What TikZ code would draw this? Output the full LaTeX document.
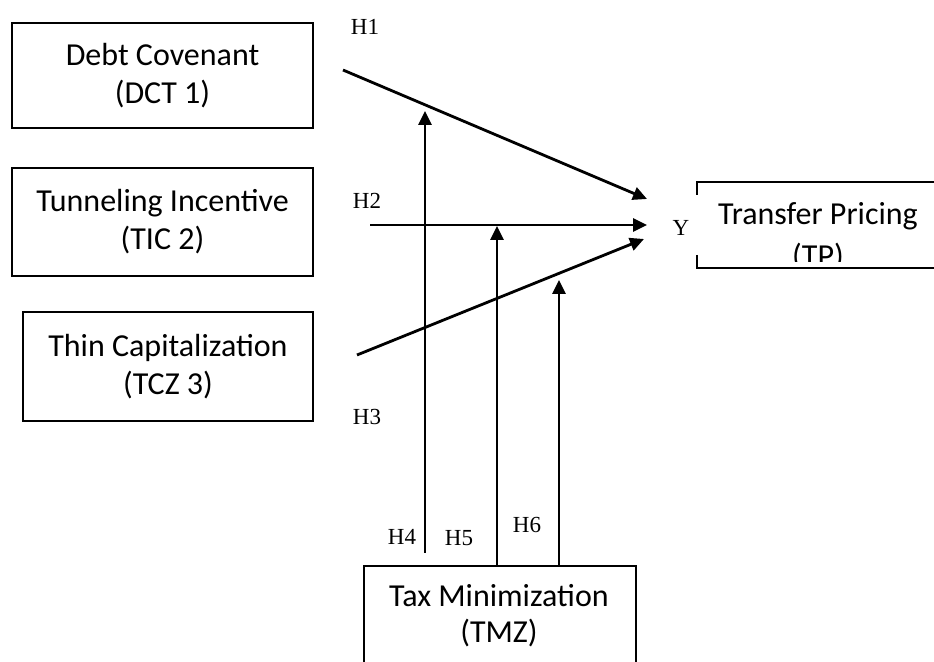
\documentclass[tikz,border=0pt]{standalone}
\usepackage{fontspec}
\setmainfont{Liberation Serif}
\newfontfamily\boxfont{Carlito}
\usetikzlibrary{arrows.meta}

\tikzset{
  varbox/.style={draw, line width=0.6pt, align=center, inner sep=0pt,
                 font=\boxfont\fontsize{16}{19}\selectfont},
  vartext/.style={align=center, inner sep=0pt,
                  font=\boxfont\fontsize{16}{18}\selectfont},
  frame/.style={line width=0.6pt},
  hlabel/.style={font=\fontsize{11.5}{13}\selectfont, inner sep=0pt},
  link/.style={line width=1.4pt, -{Triangle[length=7pt,width=6.5pt]}}
}

\begin{document}
\begin{tikzpicture}[x=0.5pt, y=-0.5pt]
  \useasboundingbox (0,0) rectangle (934,662);

  % Independent variables
  \node[varbox, minimum width=150.5pt, minimum height=52.5pt] (dct) at (162.5,75.5)
       {Debt Covenant\\(DCT 1)};
  \node[varbox, minimum width=150.5pt, minimum height=54pt] (tic) at (162.5,222)
       {Tunneling Incentive\\(TIC 2)};
  \node[varbox, minimum width=145pt, minimum height=54.5pt] (tcz) at (168,366.5)
       {Thin Capitalization\\(TCZ 3)};

  % Dependent variable (open frame, text cut at the bottom)
  \draw[frame] (697,195) |- (940,182);
  \draw[frame] (697,255) |- (940,268);
  \begin{scope}
    \clip (690,175) rectangle (940,262);
    \node[vartext, font=\boxfont\fontsize{16}{21}\selectfont] (tp) at (818,237)
         {Transfer Pricing\\(TP)};
  \end{scope}
  \node[hlabel] (y) at (681,228) {Y};

  % Moderating variable
  \draw[frame] (364,670) |- (636,566) -- (636,670);
  \node[vartext] (tmz) at (499,616) {Tax Minimization\\(TMZ)};

  % End points of the paths
  \coordinate (h1s) at (343,70);
  \coordinate (h1e) at (647,199);
  \coordinate (h2a) at (370,225);
  \coordinate (h2s) at (414,225);
  \coordinate (h2e) at (647,225);
  \coordinate (h3s) at (357,355);
  \coordinate (h3e) at (644,239);
  \coordinate (h4s) at (425,553);
  \coordinate (h4e) at (425,111);
  \coordinate (h5s) at (497,566);
  \coordinate (h5e) at (497,226);
  \coordinate (h6s) at (559,566);
  \coordinate (h6e) at (559,280);

  % Direct effects
  \draw[link] (h1s) -- (h1e);
  \draw[line width=0.6pt] (h2a) -- (h2s);
  \draw[link] (h2s) -- (h2e);
  \draw[link] (h3s) -- (h3e);

  % Moderation
  \draw[link] (h4s) -- (h4e);
  \draw[link] (h5s) -- (h5e);
  \draw[link] (h6s) -- (h6e);

  % Hypothesis labels
  \node[hlabel] (l1) at (365,27) {H1};
  \node[hlabel] (l2) at (367,201) {H2};
  \node[hlabel] (l3) at (367,417) {H3};
  \node[hlabel] (l4) at (402,537) {H4};
  \node[hlabel] (l5) at (459,538) {H5};
  \node[hlabel] (l6) at (527,525) {H6};
\end{tikzpicture}
\end{document}
